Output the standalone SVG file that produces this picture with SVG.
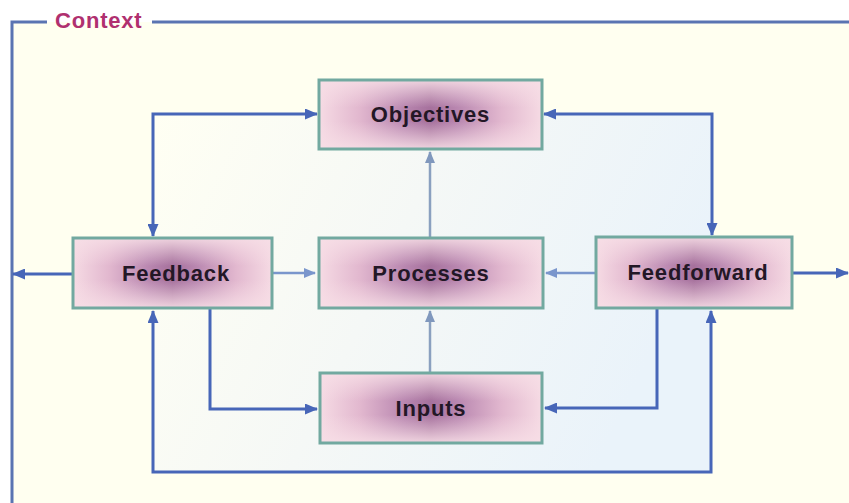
<svg xmlns="http://www.w3.org/2000/svg" width="849" height="503" viewBox="0 0 849 503">
  <defs>
    <style>
      .frame { fill: none; stroke: #5a74b2; stroke-width: 3; }
      .ctx { font-family: "Liberation Sans", Arial, sans-serif; font-weight: bold; font-size: 22px; fill: #b0306f; letter-spacing: 0.8px; }
      .nbase { fill: url(#hgrad); }
      .nover { fill: url(#vgrad); }
      .nedge { fill: none; stroke: #72a9a0; stroke-width: 3; }
      .lbl { font-family: "Liberation Sans", Arial, sans-serif; font-weight: bold; font-size: 22px; fill: #231726; text-anchor: middle; letter-spacing: 0.8px; }
      .c { fill: none; stroke: #4766b8; stroke-width: 3; }
      .cl { fill: none; stroke: #7a96cc; stroke-width: 2.5; }
      .cg { fill: none; stroke: #8aa0bf; stroke-width: 2.5; }
    </style>
    <linearGradient id="hgrad" x1="0" y1="0" x2="1" y2="0">
      <stop offset="0" stop-color="#f6dbe4"/>
      <stop offset="0.18" stop-color="#e2b8cf"/>
      <stop offset="0.38" stop-color="#b987b0"/>
      <stop offset="0.5" stop-color="#a6719d"/>
      <stop offset="0.62" stop-color="#b987b0"/>
      <stop offset="0.82" stop-color="#e2b8cf"/>
      <stop offset="1" stop-color="#f6dbe4"/>
    </linearGradient>
    <linearGradient id="vgrad" x1="0" y1="0" x2="0" y2="1">
      <stop offset="0" stop-color="#f7dee6" stop-opacity="0.9"/>
      <stop offset="0.4" stop-color="#f7dee6" stop-opacity="0"/>
      <stop offset="0.6" stop-color="#f7dee6" stop-opacity="0"/>
      <stop offset="1" stop-color="#f7dee6" stop-opacity="0.9"/>
    </linearGradient>
    <linearGradient id="inner" x1="0" y1="0" x2="1" y2="0.3">
      <stop offset="0" stop-color="#fffff3"/>
      <stop offset="0.5" stop-color="#f5f8f6"/>
      <stop offset="1" stop-color="#eaf3fa"/>
    </linearGradient>
    <marker id="ad" markerUnits="userSpaceOnUse" markerWidth="13" markerHeight="11" refX="12" refY="5.5" orient="auto-start-reverse">
      <path d="M0,0 L13,5.5 L0,11 Z" fill="#4766b8"/>
    </marker>
    <marker id="al" markerUnits="userSpaceOnUse" markerWidth="12" markerHeight="10" refX="11" refY="5" orient="auto-start-reverse">
      <path d="M0,0 L12,5 L0,10 Z" fill="#7a96cc"/>
    </marker>
    <marker id="ag" markerUnits="userSpaceOnUse" markerWidth="12" markerHeight="10" refX="11" refY="5" orient="auto-start-reverse">
      <path d="M0,0 L12,5 L0,10 Z" fill="#8098bd"/>
    </marker>
  </defs>

  <!-- background -->
  <rect x="0" y="0" width="849" height="503" fill="#ffffff"/>
  <rect x="12" y="22" width="837" height="481" fill="#fffff0"/>
  <rect x="153" y="114" width="559" height="358" fill="url(#inner)"/>

  <!-- context frame -->
  <g id="context">
    <path class="frame" d="M47,22 H12 V503"/>
    <path class="frame" d="M152,22 H849"/>
    <text class="ctx" x="55" y="28">Context</text>
  </g>

  <!-- connectors -->
  <g id="connectors">
    <path class="c" d="M73,274 H13" marker-end="url(#ad)"/>
    <path class="c" d="M792,273 H848" marker-end="url(#ad)"/>
    <path class="c" d="M317,114 H153 V236" marker-start="url(#ad)" marker-end="url(#ad)"/>
    <path class="c" d="M544,114 H712 V235" marker-start="url(#ad)" marker-end="url(#ad)"/>
    <path class="cl" d="M272,273 H315" marker-end="url(#al)"/>
    <path class="cl" d="M596,273 H546" marker-end="url(#al)"/>
    <path class="cg" d="M430,238 V152" marker-end="url(#ag)"/>
    <path class="cg" d="M430,373 V311" marker-end="url(#ag)"/>
    <path class="c" d="M210,308 V409 H317" marker-end="url(#ad)"/>
    <path class="c" d="M657,308 V408 H545" marker-end="url(#ad)"/>
    <path class="c" d="M153,311 V472 H711 V311" marker-start="url(#ad)" marker-end="url(#ad)"/>
  </g>

  <!-- nodes -->
  <g id="objectives">
    <rect class="nbase" x="319" y="80" width="223" height="69"/>
    <rect class="nover" x="319" y="80" width="223" height="69"/>
    <rect class="nedge" x="319" y="80" width="223" height="69"/>
    <text class="lbl" x="430.5" y="122">Objectives</text>
  </g>
  <g id="feedback">
    <rect class="nbase" x="73" y="238" width="199" height="70"/>
    <rect class="nover" x="73" y="238" width="199" height="70"/>
    <rect class="nedge" x="73" y="238" width="199" height="70"/>
    <text class="lbl" x="176" y="281">Feedback</text>
  </g>
  <g id="processes">
    <rect class="nbase" x="319" y="238" width="224" height="70"/>
    <rect class="nover" x="319" y="238" width="224" height="70"/>
    <rect class="nedge" x="319" y="238" width="224" height="70"/>
    <text class="lbl" x="431" y="281">Processes</text>
  </g>
  <g id="feedforward">
    <rect class="nbase" x="596" y="237" width="196" height="71"/>
    <rect class="nover" x="596" y="237" width="196" height="71"/>
    <rect class="nedge" x="596" y="237" width="196" height="71"/>
    <text class="lbl" x="698" y="280">Feedforward</text>
  </g>
  <g id="inputs">
    <rect class="nbase" x="320" y="373" width="222" height="70"/>
    <rect class="nover" x="320" y="373" width="222" height="70"/>
    <rect class="nedge" x="320" y="373" width="222" height="70"/>
    <text class="lbl" x="431" y="416">Inputs</text>
  </g>
</svg>
